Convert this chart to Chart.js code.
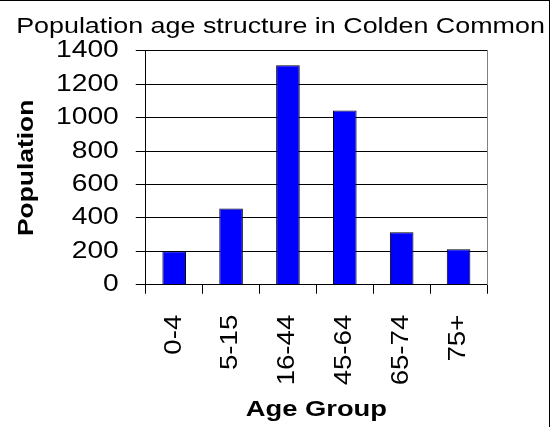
<!DOCTYPE html>
<html><head><meta charset="utf-8">
<script src="https://cdn.jsdelivr.net/npm/chart.js@4/dist/chart.umd.min.js"></script>
<style>
html,body{margin:0;padding:0;background:#fff;}
#wrap{position:relative;width:550px;height:427px;overflow:hidden;background:#fff;}
#c{position:absolute;left:0;top:0;}
.edge{position:absolute;background:#000;}
</style></head><body>
<div id="wrap">
<canvas id="c" width="550" height="427"></canvas>
<div class="edge" style="left:0;top:0;width:550px;height:1px"></div>
<div class="edge" style="left:549px;top:0;width:1px;height:427px"></div>
</div>
<script>
const chartTitle = 'Population age structure in Colden Common';
const xAxisTitle = 'Age Group';
const yAxisTitle = 'Population';
const categories = ['0-4', '5-15', '16-44', '45-64', '65-74', '75+'];
const population = [200, 457, 1315, 1043, 315, 213];
const yTicks = [0, 200, 400, 600, 800, 1000, 1200, 1400];

// The reference renders its text with glyphs about 1.2x wider than Arial;
// widen every text run horizontally (in its own frame) to match.
const TEXT_STRETCH = 1.2;
const canvas = document.getElementById('c');
const ctx = canvas.getContext('2d');
const origFill = ctx.fillText.bind(ctx);
const origMeasure = ctx.measureText.bind(ctx);
ctx.fillText = function (text, x, y, maxWidth) {
  ctx.save();
  ctx.translate(x, y);
  ctx.scale(TEXT_STRETCH, 1);
  if (maxWidth !== undefined) origFill(text, 0, 0, maxWidth / TEXT_STRETCH);
  else origFill(text, 0, 0);
  ctx.restore();
};
ctx.measureText = function (text) {
  const m = origMeasure(text);
  return {
    width: m.width * TEXT_STRETCH,
    actualBoundingBoxLeft: m.actualBoundingBoxLeft * TEXT_STRETCH,
    actualBoundingBoxRight: m.actualBoundingBoxRight * TEXT_STRETCH,
    actualBoundingBoxAscent: m.actualBoundingBoxAscent,
    actualBoundingBoxDescent: m.actualBoundingBoxDescent,
    fontBoundingBoxAscent: m.fontBoundingBoxAscent,
    fontBoundingBoxDescent: m.fontBoundingBoxDescent
  };
};

const FONT = "'Liberation Sans', Arial, sans-serif";

new Chart(canvas, {
  type: 'bar',
  data: {
    labels: categories,
    datasets: [{
      data: population,
      backgroundColor: '#0000FF',
      borderColor: '#000000',
      borderWidth: 1,
      barPercentage: 0.415,
      categoryPercentage: 1.0
    }]
  },
  options: {
    responsive: false,
    animation: false,
    layout: { padding: { left: 11, right: 0, top: 0, bottom: 0 } },
    plugins: {
      legend: { display: false },
      tooltip: { enabled: false },
      title: {
        display: true,
        text: chartTitle,
        color: '#000',
        font: { family: FONT, size: 22.4, weight: 'normal' },
        padding: { top: 13.5, bottom: 10.6 }
      }
    },
    scales: {
      x: {
        grid: { display: true, offset: true, drawOnChartArea: false, drawTicks: true, tickLength: 9, color: '#000', lineWidth: 1 },
        border: { display: true, color: '#000', width: 1 },
        ticks: { color: '#000', font: { family: FONT, size: 23 }, autoSkip: false, minRotation: 90, maxRotation: 90, padding: 21 },
        title: { display: true, text: xAxisTitle, color: '#000', font: { family: FONT, size: 22.8, weight: 'bold' }, padding: { top: -10, bottom: 3.3 } }
      },
      y: {
        min: 0, max: 1400,
        afterBuildTicks: s => { s.ticks = yTicks.map(v => ({ value: v })); },
        grid: { color: '#000', lineWidth: 1, drawTicks: true, tickLength: 10 },
        border: { display: true, color: '#000', width: 1 },
        ticks: { color: '#000', font: { family: FONT, size: 23.5 }, padding: 17, autoSkip: false, callback: v => String(v) },
        title: { display: true, text: yAxisTitle, color: '#000', font: { family: FONT, size: 22, weight: 'bold' }, padding: { top: 2.5, bottom: 23.4 } }
      },
      yRight: {
        type: 'linear', position: 'right', min: 0, max: 1400,
        grid: { drawOnChartArea: false, drawTicks: false },
        ticks: { display: false },
        border: { display: true, color: '#808080', width: 1 },
        afterFit: s => { s.width = 63; }
      }
    }
  }
});
</script>
</body></html>
